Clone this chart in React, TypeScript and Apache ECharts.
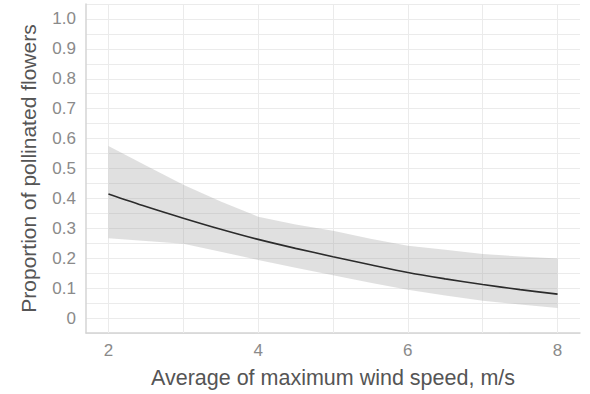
import React, { useEffect, useRef } from "react";
import * as echarts from "echarts";

const xValues = [2, 2.5, 3, 3.5, 4, 4.5, 5, 5.5, 6, 6.5, 7, 7.5, 8];
const fitValues = [0.415, 0.373, 0.334, 0.297, 0.263, 0.233, 0.205, 0.178, 0.152, 0.131, 0.112, 0.095, 0.08];
const upperValues = [0.575, 0.51, 0.446, 0.39, 0.339, 0.313, 0.292, 0.265, 0.242, 0.228, 0.214, 0.206, 0.199];
const lowerValues = [0.267, 0.258, 0.248, 0.222, 0.194, 0.168, 0.143, 0.118, 0.095, 0.075, 0.058, 0.045, 0.034];
const xTickLabels = [2, 4, 6, 8];
const xGridValues = [2, 3, 4, 5, 6, 7, 8];

const FONT = "'Liberation Sans', Arial, sans-serif";

export default function App() {
  const ref = useRef<HTMLDivElement>(null);
  useEffect(() => {
    if (!ref.current) return;
    const chart = echarts.init(ref.current, null, { renderer: "svg" });
    const option: any = {
      animation: false,
      backgroundColor: "#ffffff",
      grid: { left: 86, right: 10, top: 4, bottom: 61, containLabel: false },
      xAxis: {
        type: "value",
        min: 1.7,
        max: 8.3,
        name: "Average of maximum wind speed, m/s",
        nameLocation: "middle",
        nameGap: 34,
        nameTextStyle: { color: "#555555", fontSize: 21.5, fontFamily: FONT },
        axisLine: { show: true, onZero: false, lineStyle: { color: "#d4d4d4", width: 1.5 } },
        axisTick: { show: false },
        splitLine: { show: false },
        axisLabel: {
          customValues: xTickLabels,
          color: "#8a8a8a",
          fontSize: 17,
          fontFamily: FONT,
          margin: 9,
          formatter: (v: number) => String(v),
        },
      },
      yAxis: {
        type: "value",
        min: -0.05,
        max: 1.05,
        interval: 0.05,
        name: "Proportion of pollinated flowers",
        nameLocation: "middle",
        nameGap: 47,
        nameTextStyle: { color: "#555555", fontSize: 21, fontFamily: FONT },
        axisLine: { show: true, onZero: false, lineStyle: { color: "#d4d4d4", width: 1.5 } },
        axisTick: { show: false },
        splitLine: { show: true, lineStyle: { color: "#ebebeb", width: 1 } },
        axisLabel: {
          color: "#8a8a8a",
          fontSize: 17,
          fontFamily: FONT,
          margin: 10,
          showMinLabel: false,
          showMaxLabel: false,
          formatter: (v: number) => {
            const k = Math.round(v * 100);
            if (k < 0 || k > 100 || k % 10 !== 0) return "";
            if (k === 0) return "0";
            return (k / 100).toFixed(1);
          },
        },
      },
      series: [
        {
          type: "custom",
          z: 2,
          clip: true,
          data: [[xValues[0], lowerValues[0]]],
          renderItem: (params: any, api: any) => {
            const pts: number[][] = [];
            for (let i = 0; i < xValues.length; i++) pts.push(api.coord([xValues[i], upperValues[i]]));
            for (let i = xValues.length - 1; i >= 0; i--) pts.push(api.coord([xValues[i], lowerValues[i]]));
            return {
              type: "polygon",
              shape: { points: pts },
              style: { fill: "rgba(153,153,153,0.3)", stroke: "none" },
            };
          },
          markLine: {
            silent: true,
            z: 1,
            symbol: "none",
            label: { show: false },
            lineStyle: { color: "#ebebeb", width: 1, type: "solid" },
            data: xGridValues.map((x) => ({ xAxis: x })),
          },
        },
        {
          type: "line",
          z: 3,
          data: xValues.map((x, i) => [x, fitValues[i]]),
          smooth: 0.3,
          showSymbol: false,
          lineStyle: { color: "#2b2b2b", width: 1.6 },
          itemStyle: { color: "#2b2b2b" },
        },
      ],
    };
    chart.setOption(option);
    return () => chart.dispose();
  }, []);
  return (
    <div
      ref={ref}
      style={{ position: "absolute", left: 0, top: 0, width: 590, height: 394 }}
    />
  );
}
